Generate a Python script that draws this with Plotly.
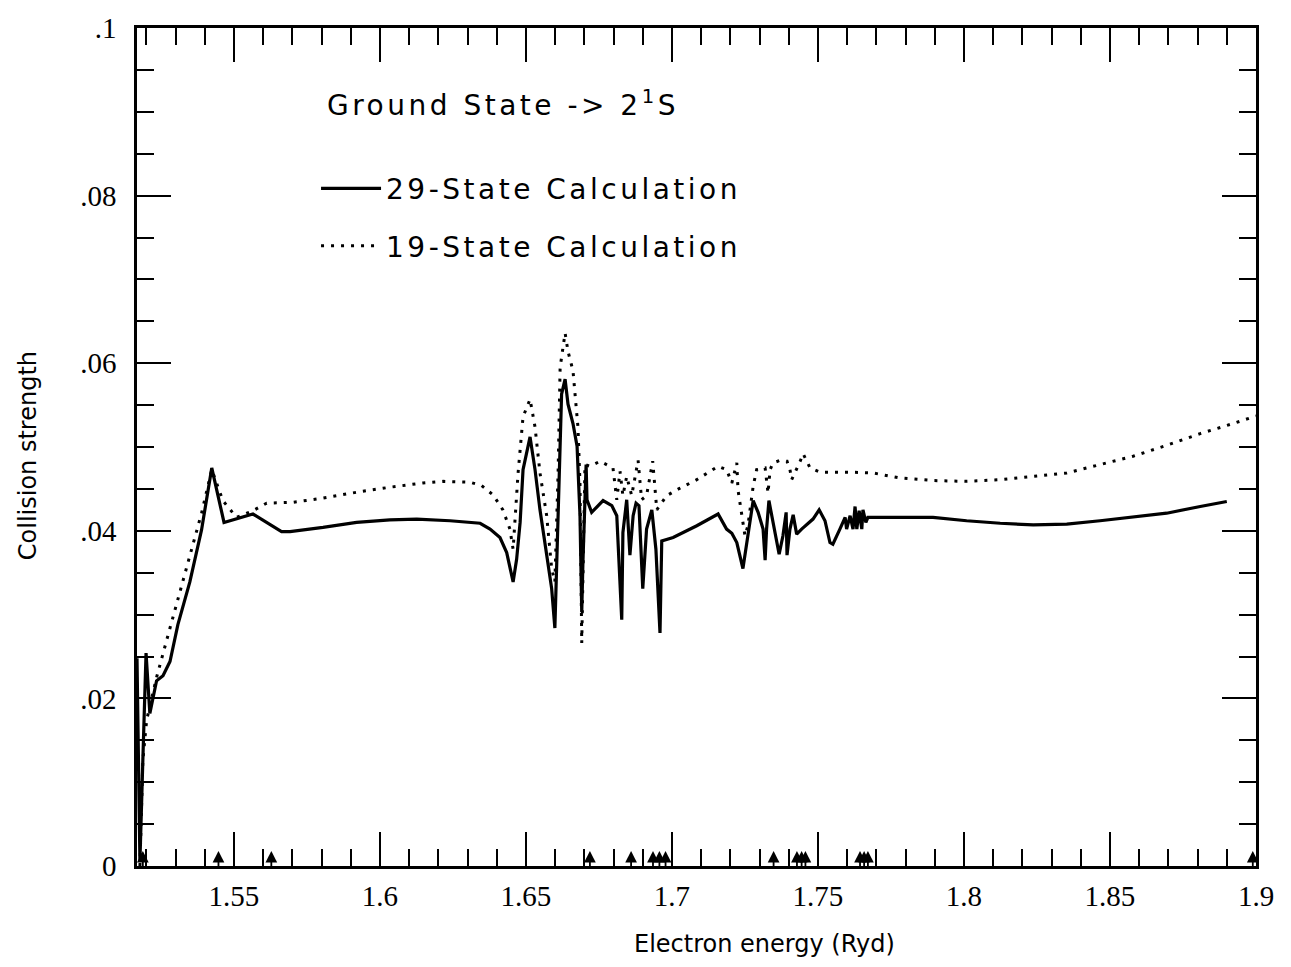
import plotly.graph_objects as go

# ---- data ----
x29 = [1.5168, 1.5178, 1.5188, 1.5199, 1.5212, 1.5235, 1.5257, 1.5281, 1.5308, 1.5349,
       1.5389, 1.5424, 1.5466, 1.5565, 1.5663, 1.5692, 1.5805, 1.5920, 1.6034, 1.6126,
       1.6240, 1.6343, 1.6377, 1.6411, 1.6434, 1.6456, 1.6468, 1.6480, 1.6490, 1.6514,
       1.6531, 1.6548, 1.6571, 1.6588, 1.6599, 1.6610, 1.6622, 1.6634, 1.6644, 1.6661,
       1.6675, 1.6685, 1.6691, 1.6695, 1.6706, 1.6709, 1.6725, 1.6764, 1.6794, 1.6811,
       1.6828, 1.6832, 1.6845, 1.6856, 1.6867, 1.6877, 1.6887, 1.6900, 1.6913, 1.6931,
       1.6945, 1.6959, 1.6965, 1.7004, 1.7085, 1.7158, 1.7187, 1.7205, 1.7222, 1.7243,
       1.7260, 1.7278, 1.7295, 1.7312, 1.7319, 1.7324, 1.7332, 1.7342, 1.7353, 1.7367,
       1.7380, 1.7391, 1.7394, 1.7404, 1.7415, 1.7427, 1.7444, 1.7483, 1.7504, 1.7524,
       1.7541, 1.7551, 1.7575, 1.7593, 1.7598, 1.7610, 1.7620, 1.7627, 1.7633, 1.7641,
       1.7650, 1.7654, 1.7664, 1.7671, 1.7781, 1.7894, 1.8009, 1.8124, 1.8237, 1.8352,
       1.8466, 1.8579, 1.8694, 1.8809, 1.8900]
y29 = [0.0248, 0.0006, 0.0126, 0.0254, 0.0182, 0.0221, 0.0227, 0.0244, 0.0288, 0.0339,
       0.0401, 0.0475, 0.0410, 0.0420, 0.0399, 0.0399, 0.0404, 0.0410, 0.0413, 0.0414,
       0.0412, 0.0409, 0.0402, 0.0392, 0.0374, 0.0339, 0.0366, 0.0410, 0.0473, 0.0512,
       0.0473, 0.0425, 0.0371, 0.0331, 0.0284, 0.0418, 0.0563, 0.0581, 0.0551, 0.0528,
       0.0501, 0.0418, 0.0303, 0.0362, 0.0479, 0.0437, 0.0422, 0.0436, 0.0430, 0.0418,
       0.0294, 0.0398, 0.0437, 0.0371, 0.0418, 0.0433, 0.0430, 0.0331, 0.0402, 0.0425,
       0.0378, 0.0278, 0.0388, 0.0392, 0.0406, 0.0420, 0.0402, 0.0397, 0.0386, 0.0355,
       0.0394, 0.0436, 0.0422, 0.0402, 0.0365, 0.0402, 0.0436, 0.0418, 0.0394, 0.0372,
       0.0394, 0.0422, 0.0371, 0.0402, 0.0419, 0.0396, 0.0402, 0.0414, 0.0425, 0.0412,
       0.0386, 0.0384, 0.0402, 0.0416, 0.0402, 0.0418, 0.0402, 0.0429, 0.0402, 0.0424,
       0.0402, 0.0425, 0.0410, 0.0416, 0.0416, 0.0416, 0.0412, 0.0409, 0.0407, 0.0408,
       0.0412, 0.0416, 0.0421, 0.0429, 0.0435]

x19 = [1.5178, 1.5188, 1.5201, 1.5235, 1.5281, 1.5338, 1.5389, 1.5424, 1.5462, 1.5509,
       1.5565, 1.5612, 1.5702, 1.5805, 1.5920, 1.6034, 1.6147, 1.6216, 1.6308, 1.6348,
       1.6387, 1.6421, 1.6438, 1.6445, 1.6456, 1.6473, 1.6490, 1.6514, 1.6531, 1.6548,
       1.6571, 1.6588, 1.6599, 1.6610, 1.6617, 1.6634, 1.6644, 1.6661, 1.6678, 1.6685,
       1.6691, 1.6702, 1.6719, 1.6754, 1.6798, 1.6811, 1.6822, 1.6832, 1.6845, 1.6862,
       1.6884, 1.6896, 1.6913, 1.6934, 1.6948, 1.6982, 1.7028, 1.7085, 1.7158, 1.7187,
       1.7205, 1.7222, 1.7226, 1.7239, 1.7250, 1.7260, 1.7278, 1.7290, 1.7319, 1.7329,
       1.7336, 1.7346, 1.7370, 1.7394, 1.7404, 1.7410, 1.7427, 1.7439, 1.7449, 1.7462,
       1.7473, 1.7507, 1.7610, 1.7689, 1.7781, 1.7894, 1.8009, 1.8124, 1.8237, 1.8352,
       1.8466, 1.8579, 1.8694, 1.8809, 1.8922, 1.9000]
y19 = [0.0000, 0.0126, 0.0174, 0.0225, 0.0284, 0.0355, 0.0421, 0.0473, 0.0436, 0.0416,
       0.0424, 0.0433, 0.0434, 0.0439, 0.0446, 0.0452, 0.0457, 0.0459, 0.0458, 0.0454,
       0.0443, 0.0425, 0.0410, 0.0402, 0.0378, 0.0469, 0.0536, 0.0557, 0.0524, 0.0469,
       0.0418, 0.0355, 0.0339, 0.0469, 0.0595, 0.0636, 0.0614, 0.0591, 0.0524, 0.0457,
       0.0266, 0.0479, 0.0477, 0.0483, 0.0475, 0.0437, 0.0471, 0.0442, 0.0465, 0.0442,
       0.0484, 0.0437, 0.0442, 0.0483, 0.0425, 0.0442, 0.0451, 0.0461, 0.0477, 0.0473,
       0.0457, 0.0481, 0.0449, 0.0421, 0.0394, 0.0406, 0.0453, 0.0473, 0.0475, 0.0445,
       0.0473, 0.0481, 0.0484, 0.0483, 0.0473, 0.0461, 0.0473, 0.0483, 0.0492, 0.0483,
       0.0475, 0.0470, 0.0470, 0.0469, 0.0463, 0.0460, 0.0459, 0.0461, 0.0465, 0.0469,
       0.0479, 0.0489, 0.0502, 0.0516, 0.0528, 0.0537]

# threshold arrows on the energy axis
thresholds = [1.5188, 1.5447, 1.5628, 1.6719, 1.6860, 1.6935, 1.6957, 1.6978,
              1.7348, 1.7428, 1.7444, 1.7457, 1.7644, 1.7658, 1.7671, 1.8989]

xtick_vals = [1.55, 1.6, 1.65, 1.7, 1.75, 1.8, 1.85, 1.9]
xtick_text = ["1.55", "1.6", "1.65", "1.7", "1.75", "1.8", "1.85", "1.9"]
ytick_vals = [0, 0.02, 0.04, 0.06, 0.08, 0.1]
ytick_text = ["0", ".02", ".04", ".06", ".08", ".1"]

x_range = [1.5168, 1.9]
y_range = [0, 0.1]

SANS = "DejaVu Sans"
SERIF = "Liberation Serif"
LS = "letter-spacing:3.5px"

fig = go.Figure()
fig.add_trace(go.Scatter(
    x=x29, y=y29, mode="lines", name=f'<span style="{LS}">29-State Calculation</span>',
    legendgroup="a", line=dict(color="black", width=3.2), cliponaxis=True))
fig.add_trace(go.Scatter(
    x=x19, y=y19, mode="lines", name=f'<span style="{LS}">19-State Calculation</span>',
    legendgroup="b", line=dict(color="black", width=3, dash="3px,7px"), cliponaxis=True))

for t in thresholds:
    fig.add_annotation(x=t, y=0.0018, xref="x", yref="y", text="", showarrow=True,
                       ax=0, ay=18, arrowhead=2, arrowsize=1.3, arrowwidth=1.8,
                       arrowcolor="black", standoff=0)

fig.add_annotation(x=0.168, y=0.91, xref="paper", yref="paper", xanchor="left",
                   yanchor="middle", showarrow=False,
                   text=f'<span style="{LS}">Ground State -> 2<sup>1</sup>S</span>',
                   font=dict(family=SANS, size=28, color="black"))

fig.add_annotation(x=0.561, y=-0.0934, xref="paper", yref="paper", showarrow=False,
                   xanchor="center", yanchor="middle",
                   text="Electron energy (Ryd)", font=dict(family=SANS, size=24, color="black"))
fig.add_annotation(x=-0.0974, y=0.489, xref="paper", yref="paper", showarrow=False,
                   xanchor="center", yanchor="middle",
                   textangle=-90, text="Collision strength",
                   font=dict(family=SANS, size=24, color="black"))

axis_common = dict(showgrid=False, zeroline=False, showline=True, linecolor="black",
                   linewidth=2.5, mirror="allticks", ticks="inside", tickcolor="black",
                   tickwidth=2, ticklen=34)

fig.update_xaxes(range=x_range, tickvals=xtick_vals, ticktext=xtick_text,
                 tickfont=dict(family=SERIF, size=29, color="black"),
                 ticklabelstandoff=2,
                 minor=dict(ticks="inside", dtick=0.01, tick0=1.5, ticklen=17,
                            tickwidth=2, tickcolor="black", showgrid=False),
                 **axis_common)
fig.update_yaxes(range=y_range, tickvals=ytick_vals, ticktext=ytick_text,
                 tickfont=dict(family=SERIF, size=29, color="black"),
                 ticklabelstandoff=12,
                 minor=dict(ticks="inside", dtick=0.005, tick0=0, ticklen=17,
                            tickwidth=2, tickcolor="black", showgrid=False),
                 **axis_common)

fig.update_layout(
    width=1291, height=967,
    margin=dict(l=137, r=35, t=20, b=101),
    paper_bgcolor="white", plot_bgcolor="white",
    showlegend=True,
    legend=dict(x=0.16, y=0.838, xanchor="left", yanchor="top",
                bgcolor="rgba(0,0,0,0)", borderwidth=0,
                font=dict(family=SANS, size=28, color="black"),
                itemwidth=60, traceorder="grouped", tracegroupgap=18),
)

fig.write_html("out.html")
